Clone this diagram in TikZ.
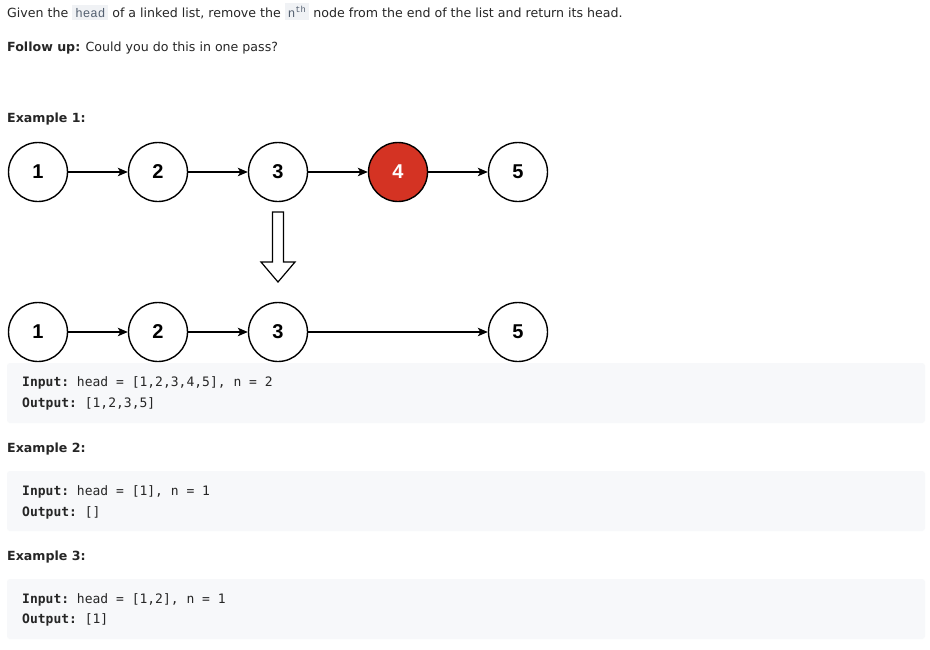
\documentclass[tikz,border=0pt]{standalone}
\usepackage{fontspec}
\setmainfont{DejaVu Sans}
\setmonofont{DejaVu Sans Mono}
\newfontfamily\nodefont{Liberation Sans}
\newfontfamily\inlinefont{Liberation Mono}
\usetikzlibrary{arrows.meta}
\definecolor{textgray}{RGB}{38,38,38}
\definecolor{codebg}{RGB}{247,248,250}
\definecolor{inlinebg}{RGB}{240,242,245}
\definecolor{inlinefg}{RGB}{84,96,112}
\definecolor{nodered}{RGB}{212,51,35}
\newcommand\inlinecode[1]{{\setlength\fboxsep{3pt}\colorbox{inlinebg}{\fontsize{12.5}{13}\inlinefont\color{inlinefg}#1}}}
\tikzset{
  listnode/.style={circle, draw, line width=1.4pt, minimum size=59pt, inner sep=0pt, font=\fontsize{20}{20}\nodefont\bfseries},
  removed/.style={listnode, fill=nodered, text=white},
  nextarrow/.style={-{Stealth[length=10pt,width=8.5pt,inset=2.5pt]}, line width=1.2pt},
  codeblock/.style={fill=codebg, rounded corners=3pt},
  para/.style={anchor=base west, inner sep=0pt, text=textgray, font=\fontsize{12.6}{16}\selectfont},
  heading/.style={para, font=\fontsize{12.6}{16}\selectfont\bfseries},
  codeline/.style={anchor=base west, inner sep=0pt, text=textgray, font=\fontsize{13}{16}\ttfamily}
}
\begin{document}
\begin{tikzpicture}[x=1pt,y=-1pt]
\useasboundingbox [fill=white] (0,0) rectangle (930,649);

\node [para] (intro) at (7,17) {Given the \inlinecode{head} of a linked list, remove the \inlinecode{n\textsuperscript{th}} node from the end of the list and return its head.};
\node [para] (follow) at (7,51) {\textbf{Follow up:} Could you do this in one pass?};

% example 1
\node [heading] (ex1) at (7,122) {Example 1:};
\foreach \i in {1,2,3,5}
  \node [listnode] (a\i) at ({38+120*(\i-1)},172) {\i};
\node [removed] (a4) at (398,172) {4};
\draw [nextarrow] (a1) -- (a2);
\draw [nextarrow] (a2) -- (a3);
\draw [nextarrow] (a3) -- (a4);
\draw [nextarrow] (a4) -- (a5);

\draw [line width=1.2pt, fill=white] (272.5,212) -- (283.5,212) -- (283.5,262) -- (295,262) -- (278,282)
  -- (261,262) -- (272.5,262) -- cycle;

\foreach \i in {1,2,3,5}
  \node [listnode] (b\i) at ({38+120*(\i-1)},332) {\i};
\draw [nextarrow] (b1) -- (b2);
\draw [nextarrow] (b2) -- (b3);
\draw [nextarrow] (b3) -- (b5);

\fill [codeblock] (7,363) rectangle (925,423);
\node [codeline] (in1) at (22,386.5) {\textbf{Input:} head = [1,2,3,4,5], n = 2};
\node [codeline] (out1) at (22,407) {\textbf{Output:} [1,2,3,5]};

% example 2
\node [heading] (ex2) at (7,452) {Example 2:};
\fill [codeblock] (7,471) rectangle (925,531);
\node [codeline] (in2) at (22,495.5) {\textbf{Input:} head = [1], n = 1};
\node [codeline] (out2) at (22,516) {\textbf{Output:} []};

% example 3
\node [heading] (ex3) at (7,560) {Example 3:};
\fill [codeblock] (7,579) rectangle (925,639);
\node [codeline] (in3) at (22,603) {\textbf{Input:} head = [1,2], n = 1};
\node [codeline] (out3) at (22,623.5) {\textbf{Output:} [1]};
\end{tikzpicture}
\end{document}
